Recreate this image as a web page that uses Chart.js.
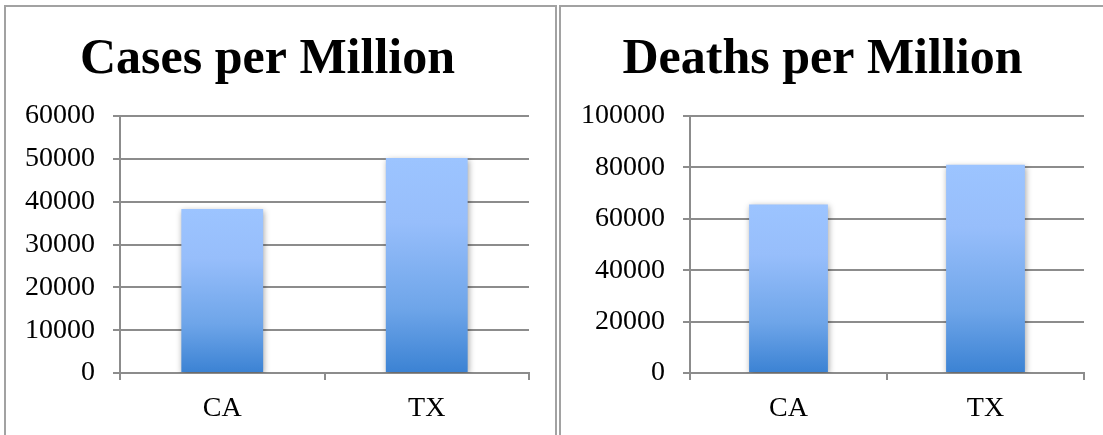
<!DOCTYPE html>
<html>
<head>
<meta charset="utf-8">
<script src="https://cdn.jsdelivr.net/npm/chart.js@4"></script>
<style>
  html, body { margin: 0; padding: 0; background: #fff; overflow: hidden; }
  body { width: 1103px; height: 435px; position: relative; }
  .box { position: absolute; top: 5px; height: 460px; border: 2px solid #a2a2a2; background: #fff; }
  #boxCases { left: 4px; width: 549px; }
  #boxDeaths { left: 559px; width: 549px; }
  canvas { display: block; }
</style>
</head>
<body>
<div class="box" id="boxCases"><canvas id="casesChart"></canvas></div>
<div class="box" id="boxDeaths"><canvas id="deathsChart"></canvas></div>
<script>
// data
const states = ["CA", "TX"];
const casesPerMillion = [38300, 50200];
const deathsPerMillion = [65600, 81000];
const casesTicks = [0, 10000, 20000, 30000, 40000, 50000, 60000];
const deathsTicks = [0, 20000, 40000, 60000, 80000, 100000];

// each bar gets its own top-to-bottom gradient
function barGradient(context) {
  const chart = context.chart;
  if (!chart.chartArea || !chart.scales.y) return "#8fb8f5";
  const v = context.raw;
  const top = chart.scales.y.getPixelForValue(v);
  const bottom = chart.scales.y.getPixelForValue(0);
  const g = chart.ctx.createLinearGradient(0, top, 0, bottom);
  g.addColorStop(0, "#9cc4ff");
  g.addColorStop(0.3, "#97befb");
  g.addColorStop(0.7, "#6ea5e9");
  g.addColorStop(1, "#3b82d3");
  return g;
}

const barShadow = {
  id: "barShadow",
  beforeDatasetsDraw(chart) {
    chart.ctx.save();
    chart.ctx.shadowColor = "rgba(0,0,0,0.35)";
    chart.ctx.shadowBlur = 6;
    chart.ctx.shadowOffsetX = 1;
    chart.ctx.shadowOffsetY = 2;
  },
  afterDatasetsDraw(chart) {
    chart.ctx.restore();
  }
};

const serif = "'Liberation Serif', serif";

function makeChart(id, title, values, ticks, yWidth) {
  const ctx = document.getElementById(id).getContext("2d");
  return new Chart(ctx, {
    type: "bar",
    data: {
      labels: states,
      datasets: [{
        data: values,
        backgroundColor: barGradient,
        borderWidth: 0,
        barPercentage: 0.8,
        categoryPercentage: 0.5
      }]
    },
    options: {
      responsive: true,
      maintainAspectRatio: false,
      animation: false,
      layout: { padding: { top: 23, right: 26, bottom: 34, left: 0 } },
      plugins: {
        legend: { display: false },
        tooltip: { enabled: false },
        title: {
          display: true,
          text: title,
          color: "#000",
          font: { family: serif, size: 50, weight: "bold" },
          padding: { top: 0, bottom: 26 }
        }
      },
      scales: {
        x: {
          grid: { display: true, drawOnChartArea: false, color: "#8c8c8c", lineWidth: 2, tickLength: 7, offset: true },
          border: { color: "#8c8c8c", width: 2 },
          ticks: { color: "#000", font: { family: serif, size: 28 }, padding: 12 },
          afterFit(scale) { scale.height = 60; }
        },
        y: {
          min: 0,
          max: ticks[ticks.length - 1],
          afterBuildTicks(scale) { scale.ticks = ticks.map(v => ({ value: v })); },
          grid: { color: "#8c8c8c", lineWidth: 2, tickLength: 7 },
          border: { color: "#8c8c8c", width: 2 },
          ticks: { color: "#000", font: { family: serif, size: 28 }, padding: 18, callback: v => String(v) },
          afterFit(scale) { scale.width = yWidth; }
        }
      }
    },
    plugins: [barShadow]
  });
}

makeChart("casesChart", "Cases per Million", casesPerMillion, casesTicks, 114);
makeChart("deathsChart", "Deaths per Million", deathsPerMillion, deathsTicks, 129);
</script>
</body>
</html>
